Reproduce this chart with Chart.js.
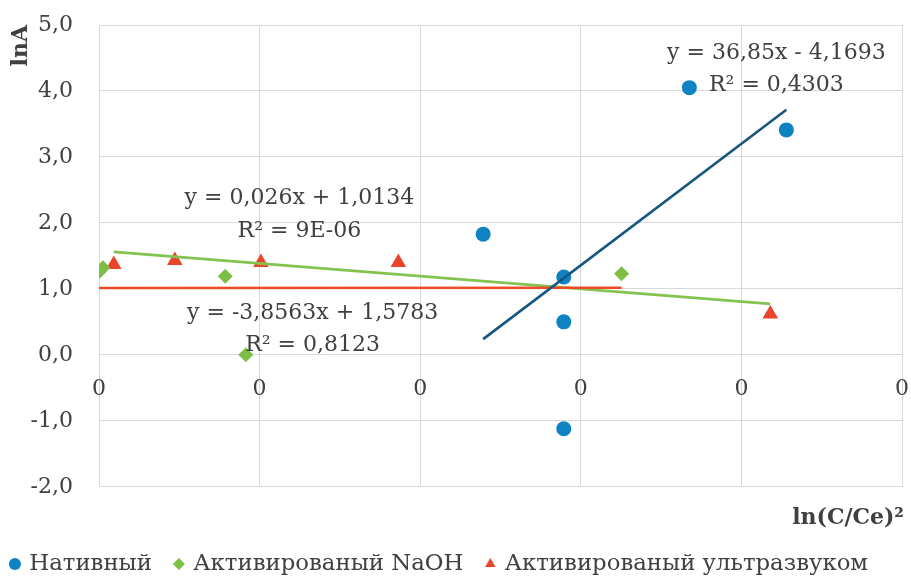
<!DOCTYPE html>
<html><head><meta charset="utf-8">
<script src="https://cdn.jsdelivr.net/npm/chart.js@4/dist/chart.umd.min.js"></script>
<style>html,body{margin:0;padding:0;background:#fff}</style>
</head><body>
<canvas id="c" width="911" height="577"></canvas>
<script>
// ---- data ----
const seriesNames = ['Нативный', 'Активированый NaOH', 'Активированый ультразвуком'];
const nativeX = [0.1196, 0.1447, 0.1447, 0.1447, 0.1838, 0.2140];
const nativeY = [1.83, 1.18, 0.50, -1.12, 4.05, 3.41];
const naohX = [0.0000, 0.0012, 0.0393, 0.0457, 0.1627];
const naohY = [1.26, 1.32, 1.19, 0.00, 1.23];
const usX = [0.0046, 0.0236, 0.0504, 0.0932, 0.2090];
const usY = [1.37, 1.43, 1.40, 1.40, 0.62];
const trendSlope = [36.85, 0.026, -3.8563];
const trendIntercept = [-4.1693, 1.0134, 1.5783];
const trendEquation = ['y = 36,85x - 4,1693', 'y = 0,026x + 1,0134', 'y = -3,8563x + 1,5783'];
const trendR2 = ['R² = 0,4303', 'R² = 9E-06', 'R² = 0,8123'];
const xTickValues = [0, 0.05, 0.10, 0.15, 0.20, 0.25];
const yTickValues = [-2, -1, 0, 1, 2, 3, 4, 5];
const xTitle = 'ln(C/Ce)²';
const yTitle = 'lnA';

// ---- styling ----
const FONT = 'DejaVu Serif';
const TXT = '#404040';
const GRID = '#d9d9d9';
const pointColors = ['#0f82c4', '#7dbf45', '#e8452a'];
const pointStyles = ['circle', 'rectRot', 'triangle'];
const pointRadii = [7.5, 7.5, 9];
// trend line colours as drawn in the figure (NaOH trend red, ultrasound trend green)
const trendColors = ['#17577f', '#ee4b25', '#83c350'];
// label anchors in data coordinates
const labelAnchors = [
  {x: 0.2109, y1: 4.57, y2: 4.08},
  {x: 0.0624, y1: 2.38, y2: 1.88},
  {x: 0.0665, y1: 0.63, y2: 0.15}
];
const PAD_LEFT = -24;

const xs = [nativeX, naohX, usX];
const ys = [nativeY, naohY, usY];

const datasets = [];
for (let i = 0; i < 3; i++) {
  datasets.push({
    label: seriesNames[i],
    data: xs[i].map((x, k) => ({x, y: ys[i][k]})),
    pointStyle: pointStyles[i],
    pointRadius: pointRadii[i],
    pointHoverRadius: pointRadii[i],
    backgroundColor: pointColors[i],
    borderColor: pointColors[i],
    pointBorderWidth: 0,
    showLine: false,
    order: 1
  });
}
for (let i = 0; i < 3; i++) {
  const x0 = Math.min(...xs[i]), x1 = Math.max(...xs[i]);
  datasets.push({
    label: 'trend' + i,
    data: [x0, x1].map(x => ({x, y: trendSlope[i] * x + trendIntercept[i]})),
    showLine: true,
    borderColor: trendColors[i],
    backgroundColor: trendColors[i],
    borderWidth: 2.6,
    pointRadius: 0,
    pointHoverRadius: 0,
    order: 0
  });
}

const labelPlugin = {
  id: 'trendLabels',
  afterDatasetsDraw(chart) {
    const {ctx, scales: {x, y}} = chart;
    ctx.save();
    ctx.font = '22px "' + FONT + '"';
    ctx.fillStyle = TXT;
    ctx.textAlign = 'center';
    ctx.textBaseline = 'middle';
    labelAnchors.forEach((a, i) => {
      const px = x.getPixelForValue(a.x);
      ctx.fillText(trendEquation[i], px, y.getPixelForValue(a.y1));
      ctx.fillText(trendR2[i], px, y.getPixelForValue(a.y2));
    });
    ctx.restore();
  }
};

new Chart(document.getElementById('c'), {
  type: 'scatter',
  data: {datasets},
  plugins: [labelPlugin],
  options: {
    responsive: false,
    animation: false,
    devicePixelRatio: 1,
    layout: {padding: {top: 25, right: 7, bottom: -8.5, left: PAD_LEFT}},
    scales: {
      x: {
        type: 'linear', min: 0, max: 0.25,
        position: {y: 0},
        afterBuildTicks: s => { s.ticks = xTickValues.map(v => ({value: v})); },
        afterFit: s => { s.paddingLeft = 0; s.paddingRight = 0; },
        ticks: {callback: v => Number(v).toFixed(0), padding: 21, color: TXT, font: {family: FONT, size: 22}, maxRotation: 0},
        grid: {color: GRID, drawTicks: false, lineWidth: 1},
        border: {display: false}
      },
      y: {
        type: 'linear', min: -2, max: 5,
        afterBuildTicks: s => { s.ticks = yTickValues.map(v => ({value: v})); },
        afterFit: s => { s.width = 99 - PAD_LEFT; s.paddingTop = 0; s.paddingBottom = 0; },
        ticks: {callback: v => Number(v).toFixed(1).replace('.', ','), padding: 26, color: TXT, font: {family: FONT, size: 22}},
        grid: {color: GRID, drawTicks: false, lineWidth: 1},
        border: {display: false},
        title: {display: true, text: yTitle, align: 'end', color: TXT, font: {family: FONT, size: 22, weight: 'bold', lineHeight: 1.2}, padding: {top: 8 - PAD_LEFT, bottom: 0}}
      }
    },
    plugins: {
      tooltip: {enabled: false},
      title: {
        display: true, text: xTitle, position: 'bottom', align: 'end', weight: 500,
        color: TXT, font: {family: FONT, size: 22, weight: 'bold', lineHeight: 1.2},
        padding: {top: 18.5, bottom: -3}
      },
      legend: {
        position: 'bottom',
        labels: {
          filter: item => item.datasetIndex < 3,
          usePointStyle: true,
          boxWidth: 6, boxHeight: 8.5,
          padding: 24,
          color: TXT,
          font: {family: FONT, size: 22.8}
        }
      }
    }
  }
});
</script>
</body></html>
